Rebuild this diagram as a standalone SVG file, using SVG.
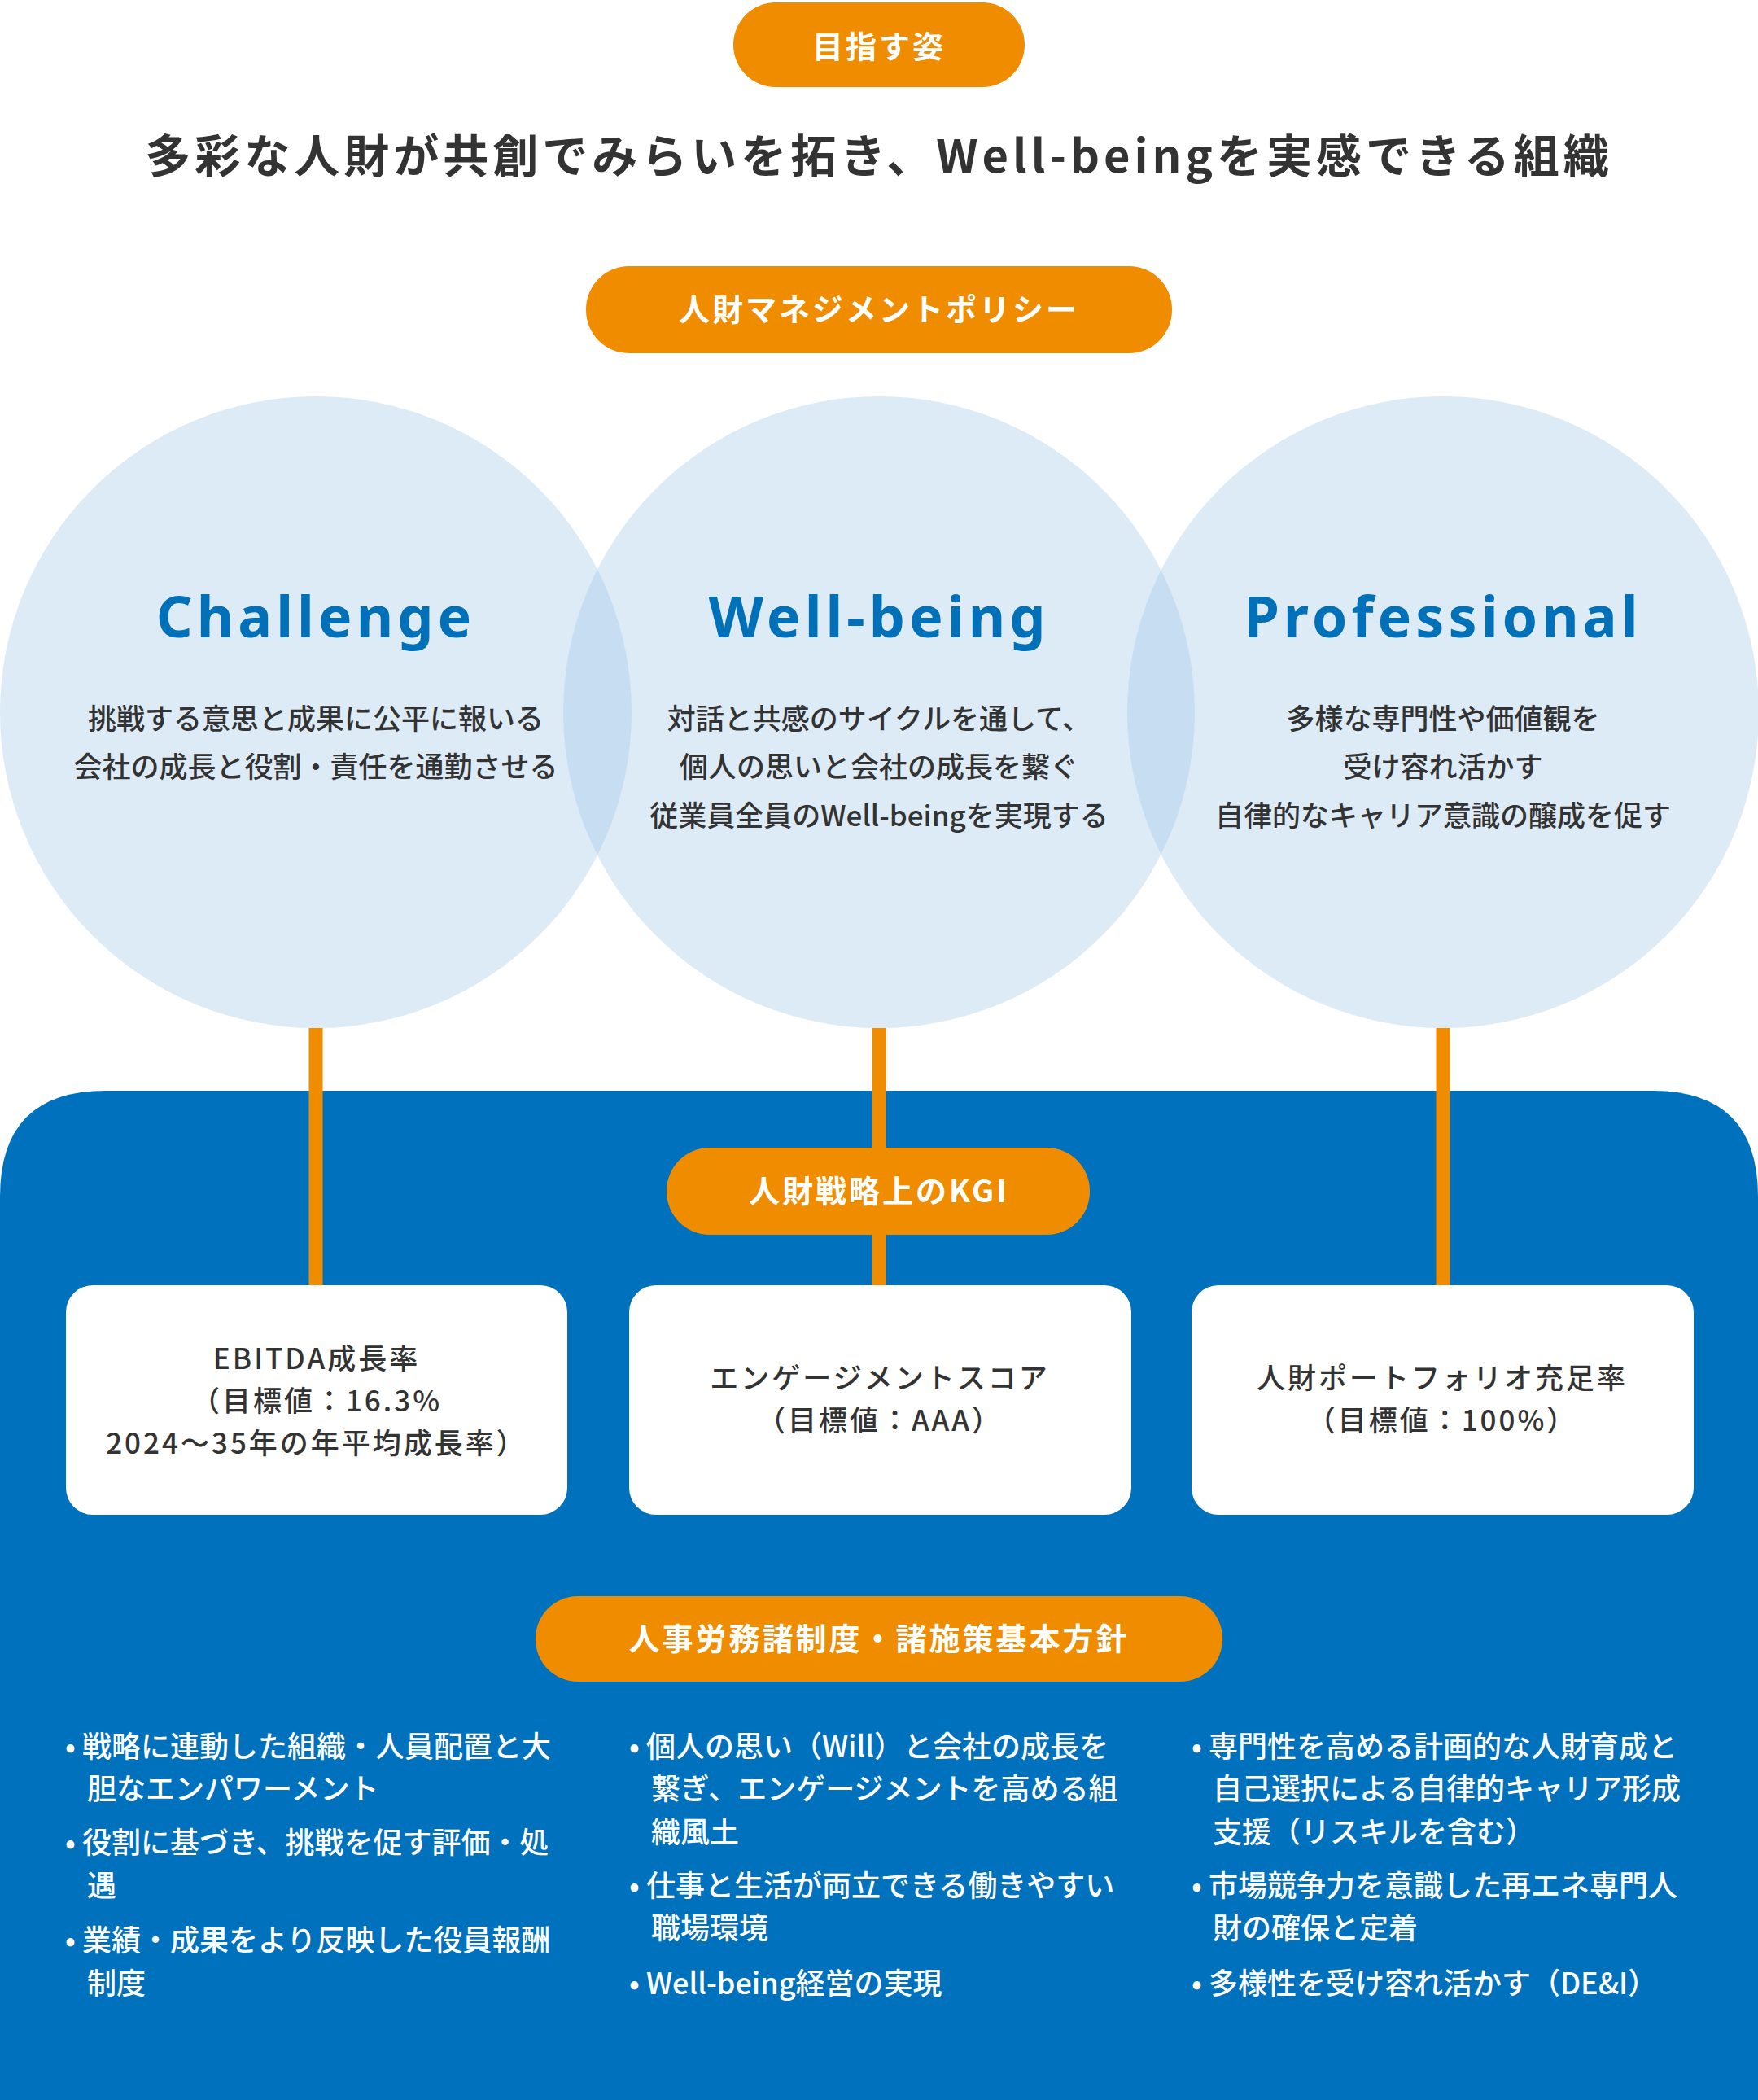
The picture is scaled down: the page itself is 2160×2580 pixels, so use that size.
<svg xmlns="http://www.w3.org/2000/svg" width="2160" height="2580" viewBox="0 0 2160 2580">
<style>
text{font-family:"Noto Sans CJK JP","Noto Sans",sans-serif;font-weight:700;text-anchor:middle}
.pill{fill:#ef8c00}
.pt{fill:#fff;font-size:38px;letter-spacing:3px}
.circ{fill:#a0c8e8;fill-opacity:0.36}
.ct{fill:#0070b8;font-size:70px;font-family:"Noto Sans","DejaVu Sans",sans-serif;letter-spacing:5px}
.cd{fill:#333;font-size:35px;font-weight:500}
.box{fill:#fff}
.bt{fill:#333;font-size:35px;letter-spacing:3px;font-weight:500}
.li{fill:#fff;font-size:36px;font-weight:500;text-anchor:start}
.conn{stroke:#ef8c00;stroke-width:17;fill:none}
</style>
<rect width="2160" height="2580" fill="#fff"/>
<g id="goal"><rect class="pill" x="901" y="3" width="358" height="104" rx="52"/><text class="pt" x="1080" y="71">目指す姿</text></g>
<g id="title"><text x="1080" y="212" style="fill:#333;font-size:56px;letter-spacing:5px">多彩な人財が共創でみらいを拓き、Well-beingを実感できる組織</text></g>
<g id="policy"><rect class="pill" x="720" y="327" width="720" height="107" rx="53"/><text class="pt" x="1080" y="394">人財マネジメントポリシー</text></g>
<g id="connectors">
<line class="conn" x1="388" y1="1263" x2="388" y2="1580"/>
<line class="conn" x1="1080" y1="1263" x2="1080" y2="1580"/>
<line class="conn" x1="1773" y1="1263" x2="1773" y2="1580"/>
</g>
<g id="c1"><circle class="circ" cx="388" cy="875" r="388"/><text class="ct" x="388" y="783">Challenge</text>
<text class="cd" x="388" y="896">挑戦する意思と成果に公平に報いる</text><text class="cd" x="388" y="955">会社の成長と役割・責任を通勤させる</text></g>
<g id="c2"><circle class="circ" cx="1080" cy="875" r="388"/><text class="ct" x="1080" y="783">Well-being</text>
<text class="cd" x="1080" y="896">対話と共感のサイクルを通して、</text><text class="cd" x="1080" y="955">個人の思いと会社の成長を繋ぐ</text><text class="cd" x="1080" y="1015">従業員全員のWell-beingを実現する</text></g>
<g id="c3"><circle class="circ" cx="1773" cy="875" r="388"/><text class="ct" x="1773" y="783">Professional</text>
<text class="cd" x="1773" y="896">多様な専門性や価値観を</text><text class="cd" x="1773" y="955">受け容れ活かす</text><text class="cd" x="1773" y="1015">自律的なキャリア意識の醸成を促す</text></g>
<g id="panel"><path d="M0 1470 Q0 1340 130 1340 L2030 1340 Q2160 1340 2160 1470 L2160 2580 L0 2580 Z" fill="#0071bc"/></g>
<g id="connectors2">
<line class="conn" x1="388" y1="1340" x2="388" y2="1580"/>
<line class="conn" x1="1080" y1="1340" x2="1080" y2="1580"/>
<line class="conn" x1="1773" y1="1340" x2="1773" y2="1580"/>
</g>
<g id="kgi"><rect class="pill" x="819" y="1410" width="520" height="107" rx="53"/><text class="pt" x="1080" y="1477">人財戦略上のKGI</text></g>
<g id="b1"><rect class="box" x="81" y="1579" width="616" height="282" rx="33"/>
<text class="bt" x="389" y="1682">EBITDA成長率</text><text class="bt" x="389" y="1734">（目標値：16.3%</text><text class="bt" x="389" y="1786">2024〜35年の年平均成長率）</text></g>
<g id="b2"><rect class="box" x="773" y="1579" width="617" height="282" rx="33"/>
<text class="bt" x="1081" y="1706">エンゲージメントスコア</text><text class="bt" x="1081" y="1758">（目標値：AAA）</text></g>
<g id="b3"><rect class="box" x="1464" y="1579" width="617" height="282" rx="33"/>
<text class="bt" x="1772" y="1706">人財ポートフォリオ充足率</text><text class="bt" x="1772" y="1758">（目標値：100%）</text></g>
<g id="basic"><rect class="pill" x="658" y="1961" width="844" height="105" rx="52"/><text class="pt" x="1080" y="2027">人事労務諸制度・諸施策基本方針</text></g>
<g id="list1">
<text class="li" x="80" y="2159">• 戦略に連動した組織・人員配置と大</text><text class="li" x="107" y="2211">胆なエンパワーメント</text>
<text class="li" x="80" y="2277">• 役割に基づき、挑戦を促す評価・処</text><text class="li" x="107" y="2330">遇</text>
<text class="li" x="80" y="2397">• 業績・成果をより反映した役員報酬</text><text class="li" x="107" y="2450">制度</text></g>
<g id="list2">
<text class="li" x="773" y="2159">• 個人の思い（Will）と会社の成長を</text><text class="li" x="800" y="2211">繋ぎ、エンゲージメントを高める組</text><text class="li" x="800" y="2264">織風土</text>
<text class="li" x="773" y="2330">• 仕事と生活が両立できる働きやすい</text><text class="li" x="800" y="2382">職場環境</text>
<text class="li" x="773" y="2450">• Well-being経営の実現</text></g>
<g id="list3">
<text class="li" x="1464" y="2159">• 専門性を高める計画的な人財育成と</text><text class="li" x="1490" y="2211">自己選択による自律的キャリア形成</text><text class="li" x="1490" y="2264">支援（リスキルを含む）</text>
<text class="li" x="1464" y="2330">• 市場競争力を意識した再エネ専門人</text><text class="li" x="1490" y="2382">財の確保と定着</text>
<text class="li" x="1464" y="2450">• 多様性を受け容れ活かす（DE&amp;I）</text></g>
</svg>
